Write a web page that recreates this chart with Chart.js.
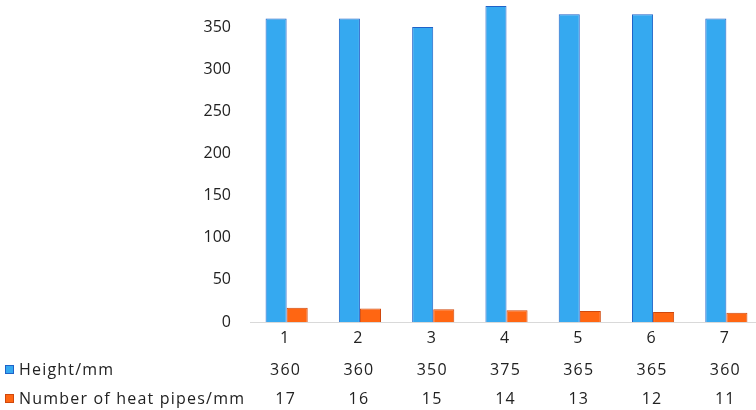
<!DOCTYPE html>
<html>
<head>
  <meta charset="UTF-8" />
  <title>Height and heat pipes</title>
  <script src="https://cdn.jsdelivr.net/npm/chart.js@4"></script>
  <style>
    html, body { margin: 0; padding: 0; background: #fff; overflow: hidden; }
    /* plot runs a few px past the right edge of the window, like the original */
    .chart-box { position: relative; width: 763px; height: 410px; }
  </style>
</head>
<body>
  <div class="chart-box">
    <canvas id="c"></canvas>
  </div>
  <script>
    // data
    const categories = ['1', '2', '3', '4', '5', '6', '7'];
    const heightMm = [360, 360, 350, 375, 365, 365, 360];
    const heatPipes = [17, 16, 15, 14, 13, 12, 11];
    const seriesNames = ['Height/mm', 'Number of heat pipes/mm'];
    const yTicks = [0, 50, 100, 150, 200, 250, 300, 350];

    const FONT = "'Open Sans', sans-serif";
    const TEXT = '#222';
    const fills = ['#35a9f0', '#ff6612'];
    const borders = ['#1f62c8', '#d0480c'];

    // data table under the x axis (legend keys + values per category)
    const dataTable = {
      id: 'dataTable',
      afterDraw(chart) {
        const ctx = chart.ctx;
        const xs = chart.scales.x;
        const rows = [heightMm, heatPipes];
        const rowY = [370, 399];
        ctx.save();
        ctx.font = '16px ' + FONT;
        ctx.textBaseline = 'middle';
        ctx.letterSpacing = '1.2px';
        rows.forEach((vals, r) => {
          // key square
          ctx.fillStyle = fills[r];
          ctx.fillRect(5, rowY[r] - 5, 9, 9);
          ctx.strokeStyle = borders[r];
          ctx.lineWidth = 1;
          ctx.strokeRect(5.5, rowY[r] - 4.5, 8, 8);
          ctx.fillStyle = TEXT;
          ctx.textAlign = 'left';
          ctx.fillText(seriesNames[r], 19, rowY[r]);
          ctx.textAlign = 'center';
          vals.forEach((v, i) => {
            ctx.fillText(String(v), xs.getPixelForValue(i) - 1, rowY[r]);
          });
        });
        ctx.restore();
      }
    };

    new Chart(document.getElementById('c'), {
      type: 'bar',
      data: {
        labels: categories,
        datasets: [{
          label: seriesNames[0],
          data: heightMm,
          backgroundColor: fills[0],
          borderColor: borders[0],
          borderWidth: 1
        }, {
          label: seriesNames[1],
          data: heatPipes,
          backgroundColor: fills[1],
          borderColor: borders[1],
          borderWidth: 1
        }]
      },
      options: {
        responsive: true,
        maintainAspectRatio: false,
        animation: false,
        datasets: { bar: { categoryPercentage: 0.575, barPercentage: 1.0 } },
        layout: { padding: 0 },
        plugins: {
          legend: { display: false },
          tooltip: { enabled: false }
        },
        scales: {
          x: {
            grid: { display: false, drawTicks: false },
            border: { display: true, color: '#d9d9d9', width: 1 },
            ticks: { color: TEXT, font: { family: FONT, size: 16 }, padding: 7, labelOffset: -2 },
            afterFit: s => { s.height = 88; s.paddingLeft = 0; s.paddingRight = 0; }
          },
          y: {
            min: 0,
            max: 382,
            grid: { display: false, drawTicks: false },
            border: { display: false },
            ticks: { color: TEXT, font: { family: FONT, size: 16 }, padding: 19 },
            afterBuildTicks: s => { s.ticks = yTicks.map(v => ({ value: v })); },
            // no extra room above the plot for the top label
            afterFit: s => { s.width = 250; s.paddingTop = 0; s.paddingBottom = 0; }
          }
        }
      },
      plugins: [dataTable]
    });
  </script>
</body>
</html>
